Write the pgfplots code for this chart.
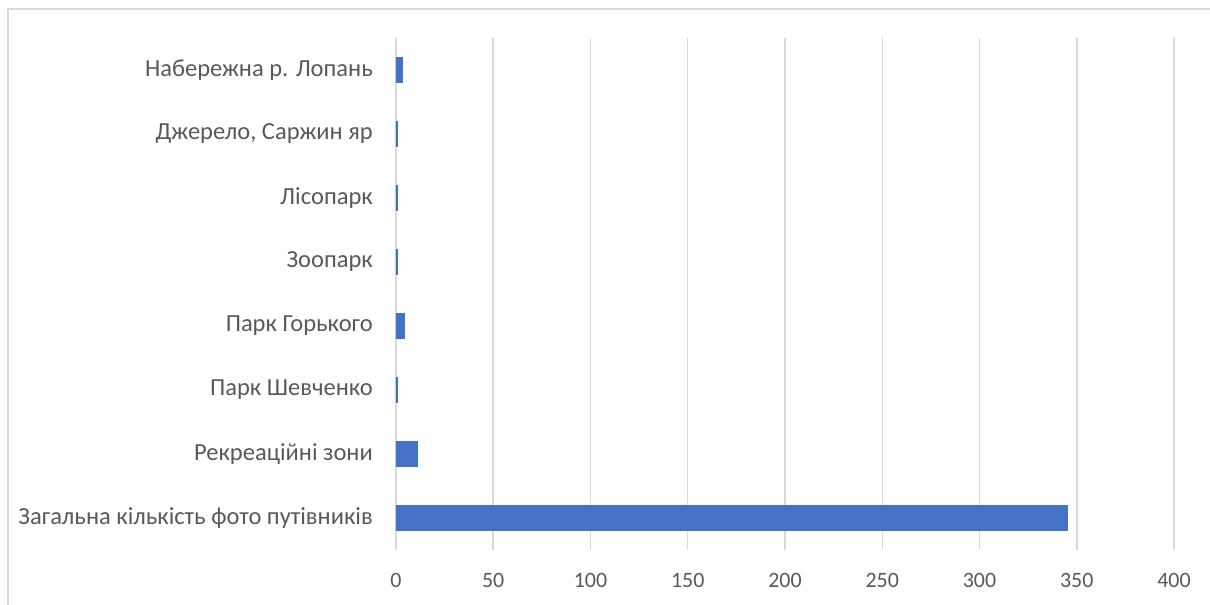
\documentclass[border=0pt]{standalone}
\usepackage{pgfplots}
\pgfplotsset{compat=1.18}
\usepackage{fontspec}
\setmainfont{Carlito}
\definecolor{barblue}{HTML}{4472C4}
\definecolor{txtgray}{HTML}{595959}
\definecolor{gridgray}{HTML}{D9D9D9}
\begin{document}
\begin{tikzpicture}[x=1bp,y=1bp]
\begin{axis}[
  scale only axis,
  width=778bp, height=512bp,
  xbar, bar width=25bp,
  xmin=0, xmax=400, ymin=-0.5, ymax=7.5,
  ytick={0,...,7},
  yticklabels={Загальна кількість фото путівників,Рекреаційні зони,Парк Шевченко,Парк Горького,Зоопарк,Лісопарк,{Джерело, Саржин яр},Набережна р. Лопань},
  xtick={0,50,...,400},
  xmajorgrids, grid style={gridgray, line width=1.5bp},
  axis line style={draw=none},
  major tick length=0,
  tick label style={text=txtgray},
  xticklabel style={font=\fontsize{22}{26}\selectfont},
  yticklabel style={font=\fontsize{24.6}{28}\selectfont},
  /pgf/number format/assume math mode=true,
  yticklabel style={inner sep=0pt, anchor=east, xshift=-23bp},
  xticklabel style={inner sep=0pt, anchor=north, yshift=-23bp},
]
\addplot[fill=barblue, draw=barblue, line width=0.3bp] coordinates {
(345,0) (11,1) (0.6,2) (4,3) (0.6,4) (0.6,5) (0.6,6) (3,7)};
\end{axis}
\useasboundingbox (-396,-55) rectangle (814,550);
\draw[gridgray, line width=1.5bp] (-388,-70) -- (-388,541) -- (830,541);
\end{tikzpicture}
\end{document}
